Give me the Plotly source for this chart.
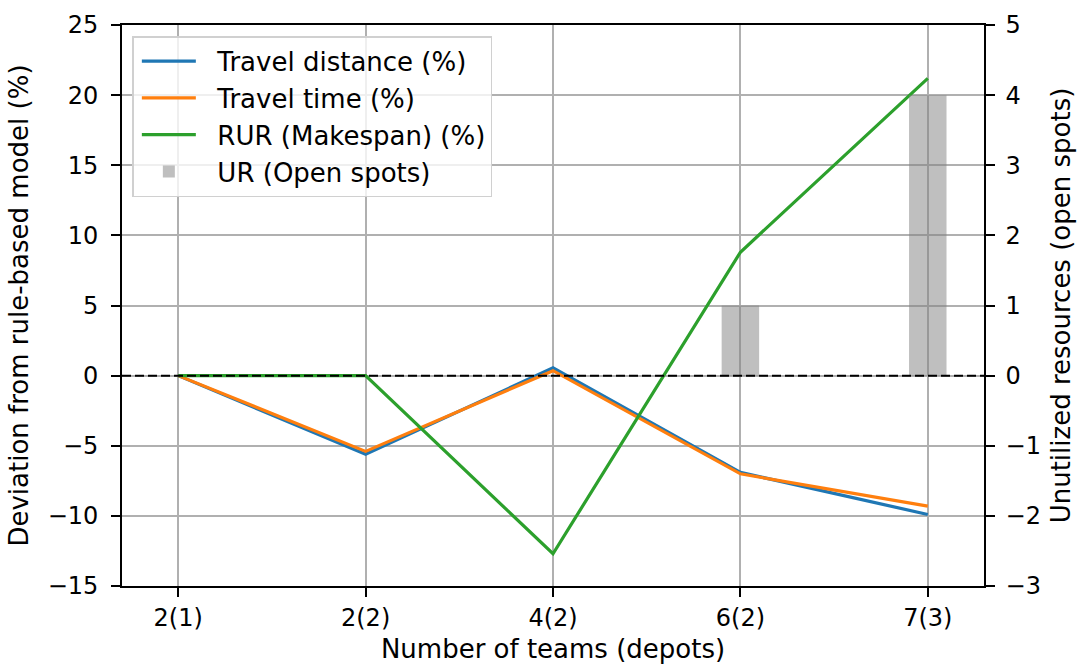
import plotly.graph_objects as go

categories = ["2(1)", "2(2)", "4(2)", "6(2)", "7(3)"]
travel_distance = [0.0, -5.6, 0.55, -6.9, -9.9]
travel_time = [0.0, -5.4, 0.35, -7.0, -9.3]
rur_makespan = [0.0, 0.0, -12.7, 8.8, 21.2]
ur_open_spots = [0, 0, 0, 1, 4]
series_names = ["Travel distance (%)", "Travel time (%)", "RUR (Makespan) (%)", "UR (Open spots)"]

font = "DejaVu Sans"
TICK = 24
LAB = 26
PAD = "\u00a0\u00a0"

fig = go.Figure()
fig.add_trace(go.Scatter(x=categories, y=travel_distance, mode="lines",
                         name=PAD + series_names[0], line=dict(color="#1f77b4", width=3.2)))
fig.add_trace(go.Scatter(x=categories, y=travel_time, mode="lines",
                         name=PAD + series_names[1], line=dict(color="#ff7f0e", width=3.2)))
fig.add_trace(go.Scatter(x=categories, y=rur_makespan, mode="lines",
                         name=PAD + series_names[2], line=dict(color="#2ca02c", width=3.2)))
fig.add_trace(go.Bar(x=categories, y=ur_open_spots, width=0.2, yaxis="y2",
                     name=PAD + series_names[3], marker=dict(color="rgba(128,128,128,0.5)", line=dict(width=0))))

fig.add_shape(type="line", xref="paper", x0=0, x1=1, yref="y", y0=0, y1=0,
              line=dict(color="black", width=2, dash="9px,4px"), layer="above")

axis_common = dict(showline=True, linecolor="black", linewidth=1.6, ticks="outside",
                   ticklen=9, tickwidth=1.6, tickcolor="black", automargin=False,
                   tickfont=dict(family=font, size=TICK, color="black"), zeroline=False)

fig.update_layout(
    width=1077, height=664,
    margin=dict(l=122, r=93, t=25, b=78, autoexpand=False),
    paper_bgcolor="white", plot_bgcolor="white",
    font=dict(family=font, color="black"),
    showlegend=True,
    legend=dict(x=0.012, y=0.98, xanchor="left", yanchor="top",
                bgcolor="rgba(255,255,255,0.8)", bordercolor="#d0d0d0", borderwidth=1.5,
                font=dict(family=font, size=LAB, color="black"), tracegroupgap=0,
                itemwidth=54, indentation=3),
    xaxis=dict(**axis_common, type="category", range=[-0.3, 4.3], mirror=True,
               ticklabelstandoff=0,
               showgrid=True, gridcolor="#b0b0b0", gridwidth=1.5,
               title=dict(text="Number of teams (depots)", font=dict(family=font, size=LAB), standoff=14)),
    yaxis=dict(**axis_common, range=[-15, 25], tickmode="array",
               ticklabelstandoff=8,
               tickvals=[-15, -10, -5, 0, 5, 10, 15, 20, 25],
               ticktext=["\u221215", "\u221210", "\u22125", "0", "5", "10", "15", "20", "25"],
               showgrid=True, gridcolor="#b0b0b0", gridwidth=1.5,
               title=dict(text="Deviation from rule-based model (%)", font=dict(family=font, size=LAB), standoff=12)),
    yaxis2=dict(**axis_common, overlaying="y", side="right", range=[-3, 5], tickmode="array",
                ticklabelstandoff=6,
                tickvals=[-3, -2, -1, 0, 1, 2, 3, 4, 5],
                ticktext=["\u22123", "\u22122", "\u22121", "0", "1", "2", "3", "4", "5"],
                showgrid=False,
                title=dict(text="Unutilized resources (open spots)", font=dict(family=font, size=LAB), standoff=12)),
)

fig.write_html("out.html")
